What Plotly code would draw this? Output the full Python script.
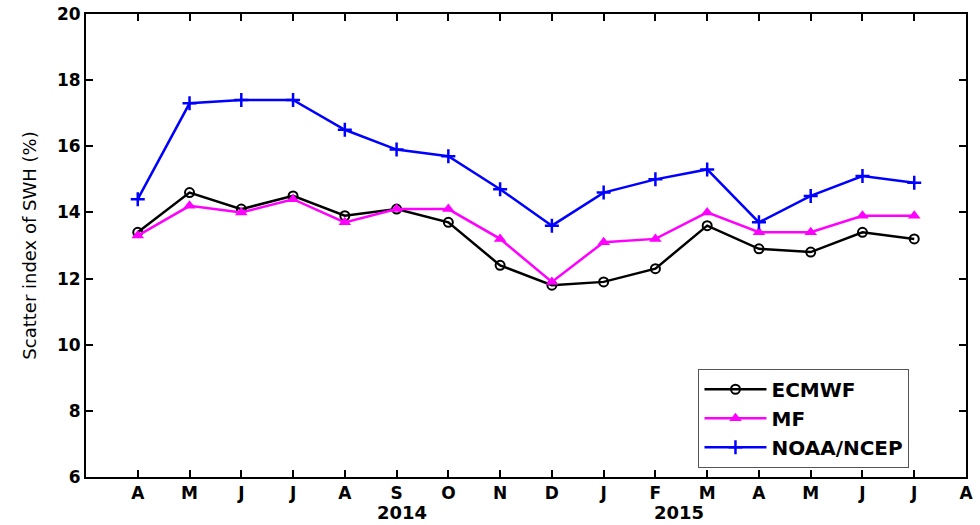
import plotly.graph_objects as go

# Monthly scatter index of significant wave height, Apr 2014 - Jul 2015
months = ["A", "M", "J", "J", "A", "S", "O", "N", "D", "J", "F", "M", "A", "M", "J", "J", "A"]
month_pos = list(range(1, 18))          # tick positions (Apr 2014 .. Aug 2015)
data_pos = list(range(1, 17))           # Apr 2014 .. Jul 2015

ecmwf = [13.4, 14.6, 14.1, 14.5, 13.9, 14.1, 13.7, 12.4, 11.8, 11.9, 12.3, 13.6, 12.9, 12.8, 13.4, 13.2]
mf = [13.3, 14.2, 14.0, 14.4, 13.7, 14.1, 14.1, 13.2, 11.9, 13.1, 13.2, 14.0, 13.4, 13.4, 13.9, 13.9]
noaa = [14.4, 17.3, 17.4, 17.4, 16.5, 15.9, 15.7, 14.7, 13.6, 14.6, 15.0, 15.3, 13.7, 14.5, 15.1, 14.9]

years = ["2014", "2015"]
year_pos = [6.1, 11.45]

y_ticks = [6, 8, 10, 12, 14, 16, 18, 20]

FONT = "DejaVu Sans, Verdana, sans-serif"

fig = go.Figure()
fig.add_trace(go.Scatter(
    x=data_pos, y=ecmwf, name="ECMWF", mode="lines+markers",
    line=dict(color="black", width=2.5),
    marker=dict(symbol="circle-open", size=9, color="black", line=dict(width=2)),
))
fig.add_trace(go.Scatter(
    x=data_pos, y=mf, name="MF", mode="lines+markers",
    line=dict(color="#ff00ff", width=2.5),
    marker=dict(symbol="triangle-up", size=11, color="#ff00ff"),
))
fig.add_trace(go.Scatter(
    x=data_pos, y=noaa, name="NOAA/NCEP", mode="lines+markers",
    line=dict(color="#0000ff", width=2.5),
    marker=dict(symbol="cross-thin-open", size=10, color="#0000ff",
                line=dict(width=2.5, color="#0000ff")),
))

for label, pos in zip(years, year_pos):
    fig.add_annotation(
        x=pos, y=-0.076, xref="x", yref="paper", text=label, showarrow=False,
        font=dict(family=FONT, size=18, color="black", weight="bold"),
        yanchor="middle",
    )

fig.update_xaxes(
    range=[0, 17], tickmode="array", tickvals=month_pos, ticktext=months,
    showline=True, linecolor="black", linewidth=2, mirror="ticks",
    ticks="inside", ticklen=7, tickwidth=2, tickcolor="black",
    showgrid=False, zeroline=False, automargin=False,
    tickfont=dict(family=FONT, size=17, color="black", weight="bold"),
)
fig.update_yaxes(
    range=[6, 20], tickmode="array", tickvals=y_ticks,
    showline=True, linecolor="black", linewidth=2, mirror="ticks",
    ticks="inside", ticklen=7, tickwidth=2, tickcolor="black",
    showgrid=False, zeroline=False, automargin=False,
    tickfont=dict(family=FONT, size=17, color="black", weight="bold"),
    title=dict(text="Scatter index of SWH (%)", standoff=16,
               font=dict(family=FONT, size=18, color="black")),
)

fig.update_layout(
    width=980, height=525,
    margin=dict(l=86, r=14, t=14, b=48),
    paper_bgcolor="white", plot_bgcolor="white",
    showlegend=True,
    legend=dict(
        x=0.696, y=0.02, xanchor="left", yanchor="bottom",
        bgcolor="white", bordercolor="#555555", borderwidth=1,
        font=dict(family=FONT, size=20, color="black", weight="bold"),
        itemwidth=62, tracegroupgap=0,
    ),
)

fig.write_html("out.html")
